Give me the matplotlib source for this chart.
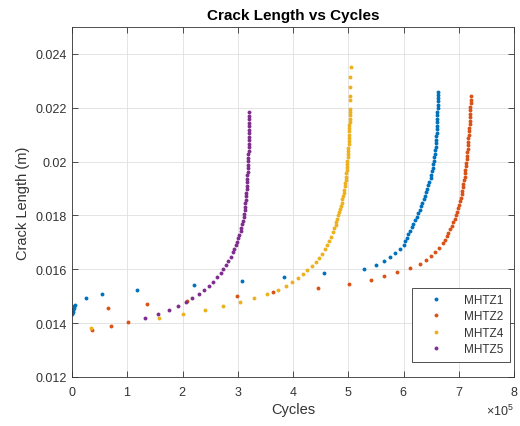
import numpy as np
import matplotlib
matplotlib.use('Agg')
import matplotlib.pyplot as plt
from matplotlib.ticker import ScalarFormatter

# cycles in units of 1e5, crack length in m
mhtz1_cycles_e5 = [0.0, 0.005, 0.01, 0.015, 0.02, 0.03, 0.04, 0.05,
                   0.25, 0.55, 1.18, 2.20, 3.07, 3.84, 4.57, 5.285,
                   5.50, 5.65, 5.76, 5.85, 5.94,
                   6.00, 6.03, 6.06, 6.09, 6.12, 6.15, 6.18, 6.21, 6.24, 6.27,
                   6.29, 6.32, 6.34, 6.37, 6.39, 6.41, 6.43, 6.45, 6.47, 6.49,
                   6.505, 6.52, 6.53, 6.54, 6.55, 6.56, 6.57, 6.575, 6.58, 6.585,
                   6.59, 6.595, 6.60, 6.603, 6.606, 6.609, 6.611, 6.613, 6.615, 6.617,
                   6.618, 6.619, 6.62, 6.62, 6.62]
mhtz1_length = [0.01433, 0.01438, 0.01443, 0.01448, 0.01453, 0.01458, 0.01463, 0.01467,
                0.01495, 0.01509, 0.01524, 0.01540, 0.01555, 0.01571, 0.01586, 0.01600,
                0.01616, 0.01631, 0.01647, 0.01662, 0.01677,
                0.01691, 0.01704, 0.01717, 0.01730, 0.01743, 0.01756, 0.01769, 0.01782, 0.01795, 0.01808,
                0.01821, 0.01834, 0.01847, 0.01860, 0.01873, 0.01886, 0.01899, 0.01912, 0.01925, 0.01938,
                0.01951, 0.01964, 0.01977, 0.01990, 0.02003, 0.02016, 0.02029, 0.02042, 0.02055, 0.02068,
                0.02081, 0.02094, 0.02107, 0.02120, 0.02133, 0.02146, 0.02159, 0.02172, 0.02185, 0.02198,
                0.02211, 0.02224, 0.02237, 0.02248, 0.02259]

mhtz2_cycles_e5 = [0.357, 0.657, 0.70, 1.02, 1.35, 2.08, 2.98, 3.63, 4.45, 5.01,
                   5.41, 5.65, 5.89, 6.12, 6.30, 6.41, 6.49, 6.57, 6.65, 6.72,
                   6.75, 6.78, 6.81, 6.84, 6.87, 6.90, 6.93, 6.955, 6.975, 6.995,
                   7.01, 7.025, 7.04, 7.05, 7.065, 7.075, 7.085, 7.095, 7.105, 7.115,
                   7.12, 7.13, 7.135, 7.145, 7.15, 7.155, 7.16, 7.165, 7.17, 7.175,
                   7.18, 7.185, 7.19, 7.195, 7.20, 7.203, 7.206, 7.209, 7.212, 7.215,
                   7.218, 7.22]
mhtz2_length = [0.013741, 0.014556, 0.013889, 0.014048, 0.014704, 0.014826, 0.015011, 0.015160,
                0.015307, 0.015456, 0.015604, 0.015752, 0.015915, 0.016048, 0.016211, 0.016344,
                0.016493, 0.016641, 0.016804, 0.016963,
                0.01709, 0.01722, 0.01735, 0.01748, 0.01761, 0.01774, 0.01787, 0.01800, 0.01813, 0.01826,
                0.01839, 0.01852, 0.01865, 0.01878, 0.01891, 0.01904, 0.01917, 0.01930, 0.01943, 0.01956,
                0.01969, 0.01982, 0.01995, 0.02008, 0.02021, 0.02034, 0.02047, 0.02060, 0.02073, 0.02086,
                0.02099, 0.02112, 0.02125, 0.02138, 0.02151, 0.02164, 0.02177, 0.02190, 0.02203, 0.02216,
                0.02229, 0.02242]

mhtz4_cycles_e5 = [0.344, 1.57, 2.01, 2.41, 2.74, 3.04, 3.30, 3.535, 3.73, 3.87,
                   3.99, 4.085, 4.175, 4.26, 4.34, 4.41, 4.47, 4.53, 4.58, 4.62,
                   4.66, 4.69, 4.73,
                   4.75, 4.77, 4.785, 4.80, 4.815, 4.83, 4.85, 4.865, 4.88, 4.895,
                   4.91, 4.92, 4.93, 4.94, 4.95, 4.955, 4.96, 4.965, 4.97, 4.975,
                   4.98, 4.985, 4.99, 4.995, 5.00, 5.003, 5.006, 5.009, 5.012, 5.015,
                   5.017, 5.019, 5.021, 5.023, 5.025, 5.027, 5.029, 5.03,
                   5.035, 5.037, 5.039, 5.04, 5.042]
mhtz4_length = [0.013815, 0.014185, 0.014333, 0.014481, 0.014630, 0.014789, 0.014926, 0.015074,
                0.015233, 0.015381, 0.015530, 0.015678, 0.015826, 0.015974, 0.016122, 0.016285,
                0.016433, 0.016581, 0.016741, 0.016889, 0.017048, 0.017211, 0.017381,
                0.01752, 0.01764, 0.01776, 0.01788, 0.01800, 0.01812, 0.01824, 0.01836, 0.01848, 0.01860,
                0.01872, 0.01884, 0.01896, 0.01908, 0.01920, 0.01932, 0.01944, 0.01956, 0.01968, 0.01980,
                0.01992, 0.02004, 0.02016, 0.02028, 0.02040, 0.02052, 0.02064, 0.02076, 0.02088, 0.02100,
                0.02112, 0.02124, 0.02136, 0.02148, 0.02160, 0.02172, 0.02184, 0.02196,
                0.02230, 0.02244, 0.02279, 0.02314, 0.02351]

mhtz5_cycles_e5 = [1.32, 1.55, 1.755, 1.92, 2.06, 2.18, 2.29, 2.39, 2.48, 2.56,
                   2.63, 2.69, 2.74, 2.79, 2.83, 2.87, 2.91,
                   2.94, 2.96, 2.985, 3.01, 3.03, 3.05, 3.065, 3.08, 3.095, 3.105,
                   3.115, 3.125, 3.13, 3.14, 3.145, 3.15, 3.155, 3.16, 3.165, 3.17,
                   3.173, 3.176, 3.18, 3.183, 3.186, 3.189, 3.19, 3.193, 3.195, 3.197,
                   3.199, 3.201, 3.203, 3.204, 3.205, 3.206, 3.207, 3.208, 3.209, 3.21]
mhtz5_length = [0.014174, 0.014333, 0.014481, 0.014630, 0.014789, 0.014937, 0.015100, 0.015248,
                0.015396, 0.015544, 0.015704, 0.015852, 0.016000, 0.016148, 0.016307, 0.016470,
                0.016641,
                0.01676, 0.01689, 0.01702, 0.01715, 0.01728, 0.01741, 0.01754, 0.01767, 0.01780, 0.01793,
                0.01806, 0.01819, 0.01832, 0.01845, 0.01858, 0.01871, 0.01884, 0.01897, 0.01910, 0.01923,
                0.01936, 0.01949, 0.01962, 0.01975, 0.01988, 0.02001, 0.02014, 0.02027, 0.02040, 0.02053,
                0.02066, 0.02079, 0.02092, 0.02105, 0.02118, 0.02131, 0.02144, 0.02157, 0.02170, 0.02183]

series_names = ['MHTZ1', 'MHTZ2', 'MHTZ4', 'MHTZ5']
series_colors = ['#0072BD', '#D95319', '#EDB120', '#7E2F8E']

plt.rcParams['font.family'] = ['Liberation Sans', 'DejaVu Sans']
plt.rcParams['mathtext.fontset'] = 'custom'
plt.rcParams['mathtext.rm'] = 'Liberation Sans'
plt.rcParams['mathtext.it'] = 'Liberation Sans'

text_gray = '#333333'

fig = plt.figure(figsize=(5.2, 4.27), dpi=100)
ax = fig.add_axes([72 / 520, 49 / 427, 442 / 520, 350 / 427])

all_x = [mhtz1_cycles_e5, mhtz2_cycles_e5, mhtz4_cycles_e5, mhtz5_cycles_e5]
all_y = [mhtz1_length, mhtz2_length, mhtz4_length, mhtz5_length]
for xs, ys, name, col in zip(all_x, all_y, series_names, series_colors):
    ax.plot(np.array(xs) * 1e5, ys, linestyle='none', marker='o', ms=2.8,
            mew=0, color=col, label=name)

ax.set_xlim(0, 8e5)
ax.set_ylim(0.012, 0.025)
ax.set_xticks(np.arange(0, 9) * 1e5)
ax.set_yticks([0.012, 0.014, 0.016, 0.018, 0.020, 0.022, 0.024])
ax.set_yticklabels(['0.012', '0.014', '0.016', '0.018', '0.02', '0.022', '0.024'])

fmt = ScalarFormatter(useMathText=True)
fmt.set_powerlimits((5, 5))
ax.xaxis.set_major_formatter(fmt)
ax.xaxis.get_offset_text().set_fontsize(9)
ax.xaxis.get_offset_text().set_color(text_gray)

ax.grid(True, color='#dfdfdf', linewidth=0.6)
ax.set_axisbelow(True)
ax.tick_params(direction='in', length=4, width=0.6, top=True, right=True,
               labelsize=9, colors=text_gray)
ax.tick_params(axis='x', pad=6)
for sp in ax.spines.values():
    sp.set_color(text_gray)
    sp.set_linewidth(0.6)

ax.set_xlabel('Cycles', fontsize=10.5, color=text_gray, labelpad=3)
ax.set_ylabel('Crack Length (m)', fontsize=10.5, color=text_gray)
ax.set_title('Crack Length vs Cycles', fontsize=11, fontweight='bold', color='black')

leg = ax.legend(loc='lower right', bbox_to_anchor=(0.991, 0.043), borderaxespad=0,
                fontsize=8.5, fancybox=False, framealpha=1, edgecolor=text_gray,
                handlelength=3.0, handletextpad=0.9, labelspacing=0.38,
                borderpad=0.55, markerscale=1.0)
leg.get_frame().set_linewidth(0.6)
for t in leg.get_texts():
    t.set_color(text_gray)

fig.savefig('out.png', dpi=100)
